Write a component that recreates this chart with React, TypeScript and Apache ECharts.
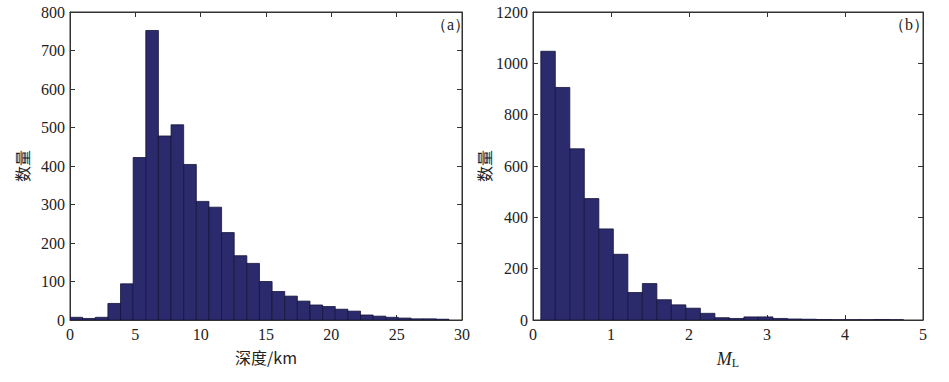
import React, { useEffect, useRef } from "react";
import * as echarts from "echarts";

// Panel (a): depth histogram (30 bins)
const depthBinStart = 0;
const depthBinWidth = 0.9667;
const depthCounts = [7, 4, 7, 43, 94, 422, 752, 478, 507, 404, 308, 293, 227, 167, 147, 100, 74, 62, 49, 39, 35, 28, 23, 13, 10, 7, 5, 3, 3, 2];
const depthTicks = [0, 5, 10, 15, 20, 25, 30];
const depthYTicks = [0, 100, 200, 300, 400, 500, 600, 700, 800];

// Panel (b): magnitude histogram (25 bins)
const magBinStart = 0.1;
const magBinWidth = 0.186;
const magCounts = [1047, 906, 667, 473, 355, 256, 107, 142, 79, 59, 46, 26, 9, 6, 12, 12, 6, 4, 3, 2, 1, 1, 1, 2, 1];
const magTicks = [0, 1, 2, 3, 4, 5];
const magYTicks = [0, 200, 400, 600, 800, 1000, 1200];

const FONT = "serif";
const CJK = "Noto Sans CJK SC";

function toBins(start: number, width: number, counts: number[]) {
  return counts.map((c, i) => [start + i * width, start + (i + 1) * width, c]);
}

const renderBar = (params: any, api: any) => {
  const x0 = api.value(0);
  const x1 = api.value(1);
  const v = api.value(2);
  const p0 = api.coord([x0, v]);
  const p1 = api.coord([x1, 0]);
  return {
    type: "rect",
    shape: { x: p0[0], y: p0[1], width: p1[0] - p0[0], height: p1[1] - p0[1] },
    style: { fill: "#2b2a6c", stroke: "#15143a", lineWidth: 0.8 },
  };
};

function axisPair(gridIndex: number, min: number, max: number, interval: number, name: any, nameGap: number, isX: boolean) {
  const common = {
    gridIndex,
    type: "value",
    min,
    max,
    interval,
    splitLine: { show: false },
    axisLine: { show: true, onZero: false, lineStyle: { color: "#333", width: 1 } },
    axisTick: { show: true, inside: true, length: 5, lineStyle: { color: "#333" } },
  };
  const main = {
    ...common,
    position: isX ? "bottom" : "left",
    name,
    nameLocation: "middle",
    nameGap,
    nameTextStyle: isX
      ? {
          fontFamily: CJK,
          fontSize: 16,
          color: "#222",
          rich: {
            i: { fontFamily: FONT, fontStyle: "italic", fontSize: 18, color: "#222" },
            s: { fontFamily: FONT, fontSize: 12, color: "#222", verticalAlign: "bottom", padding: [8, 0, 0, 0] },
          },
        }
      : { fontFamily: CJK, fontSize: 16, color: "#222" },
    axisLabel: {
      show: true,
      fontFamily: FONT,
      fontSize: 16,
      color: "#222",
      margin: isX ? 6 : 5,
      formatter: (v: number) => String(v),
    },
  };
  const opp = {
    ...common,
    position: isX ? "top" : "right",
    axisLabel: { show: false },
  };
  return [main, opp];
}

export default function App() {
  const ref = useRef<HTMLDivElement>(null);
  useEffect(() => {
    if (!ref.current) return;
    const chart = echarts.init(ref.current, null, { renderer: "svg" });
    const xAxes = [
      ...axisPair(0, depthTicks[0], depthTicks[depthTicks.length - 1], 5, "深度/km", 29, true),
      ...axisPair(1, magTicks[0], magTicks[magTicks.length - 1], 1, "{i|M}{s|L}", 29, true),
    ];
    const yAxes = [
      ...axisPair(0, depthYTicks[0], depthYTicks[depthYTicks.length - 1], 100, "数量", 40, false),
      ...axisPair(1, magYTicks[0], magYTicks[magYTicks.length - 1], 200, "数量", 37, false),
    ];
    chart.setOption({
      animation: false,
      backgroundColor: "#ffffff",
      textStyle: { fontFamily: FONT },
      grid: [
        { left: 70, top: 12, width: 392, height: 308, show: true, borderColor: "#333", borderWidth: 1, backgroundColor: "transparent" },
        { left: 533, top: 12, width: 390, height: 308, show: true, borderColor: "#333", borderWidth: 1, backgroundColor: "transparent" },
      ],
      xAxis: xAxes,
      yAxis: yAxes,
      series: [
        {
          type: "custom",
          xAxisIndex: 0,
          yAxisIndex: 0,
          renderItem: renderBar,
          encode: { x: [0, 1], y: 2 },
          data: toBins(depthBinStart, depthBinWidth, depthCounts),
          clip: true,
        },
        {
          type: "custom",
          xAxisIndex: 2,
          yAxisIndex: 2,
          renderItem: renderBar,
          encode: { x: [0, 1], y: 2 },
          data: toBins(magBinStart, magBinWidth, magCounts),
          clip: true,
        },
      ],
      graphic: [
        { type: "text", left: 431, top: 16, style: { text: "（a）", fontFamily: FONT, fontSize: 16, fill: "#222" } },
        { type: "text", left: 889, top: 16, style: { text: "（b）", fontFamily: FONT, fontSize: 16, fill: "#222" } },
      ],
    });
    return () => chart.dispose();
  }, []);
  return <div ref={ref} style={{ width: 949, height: 382, position: "absolute", left: 0, top: 0 }} />;
}
